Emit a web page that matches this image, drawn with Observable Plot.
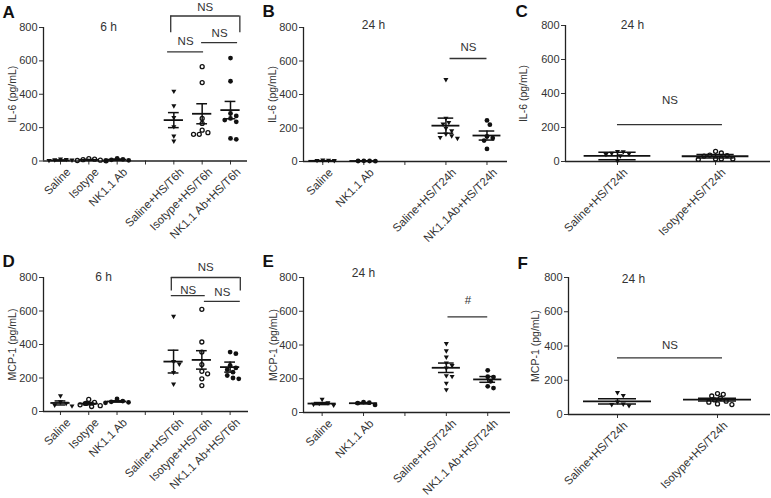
<!DOCTYPE html>
<html><head><meta charset="utf-8">
<script src="https://cdn.jsdelivr.net/npm/d3@7"></script>
<script src="https://cdn.jsdelivr.net/npm/@observablehq/plot@0.6"></script>
<style>
body{margin:0;background:#fff;}
#wrap{position:relative;width:771px;height:498px;overflow:hidden;background:#fff;}
.pan{position:absolute;}
.pan svg{display:block;}
</style></head><body><div id="wrap"></div>
<script>
// ---------- Panel A: IL-6, 6 h ----------
const catsA = ["Saline", "Isotype", "NK1.1 Ab", "", "Saline+HS/T6h", "Isotype+HS/T6h", "NK1.1 Ab+HS/T6h"];
const shapesA = ["tri", "open", "filled", "", "tri", "open", "filled"];
const ptsA = [[8, 6, 4, 2, 0], [14, 11, 8, 5, 3, 1], [16, 10, 7, 4, 2], [],
  [415, 327, 257, 202, 146, 116], [565, 470, 255, 225, 185, 170, 160, 160],
  [617, 478, 285, 270, 255, 245, 235, 135, 130]];
const meanA = [4, 7, 8, null, 245, 283, 305];
const errA = [2, 2, 3, null, 45, 60, 52];
const sigA_x1 = [3.89, 3.78, 4.98], sigA_x2 = [6.33, 5.05, 6.25];
const sigA_y = [869, 654, 709], sigA_drop = [769, null, null];
const sigA_textY = [922, 720, 765], sigA_label = ["NS", "NS", "NS"];

// ---------- Panel B: IL-6, 24 h ----------
const catsB = ["Saline", "NK1.1 Ab", "", "Saline+HS/T24h", "NK1.1Ab+HS/T24h"];
const shapesB = ["tri", "filled", "", "tri", "filled"];
const ptsB = [[5, 4, 3, 2], [4, 3, 3, 2], [],
  [486, 255, 230, 220, 195, 180, 160, 150, 140, 135], [245, 220, 150, 140, 125, 75]];
const meanB = [4, 3, null, 214, 155];
const errB = [1, 1, null, 45, 27];
const sigB_x1 = [3.1], sigB_x2 = [4.0], sigB_y = [615], sigB_drop = [null];
const sigB_textY = [680], sigB_label = ["NS"];

// ---------- Panel C: IL-6, 24 h ----------
const catsC = ["Saline+HS/T24h", "Isotype+HS/T24h"];
const shapesC = ["tri", "open"];
const ptsC = [[56, 54, 45, 42, 38, 30, 0], [60, 50, 38, 35, 32, 15, 15, 15, 12]];
const meanC = [33, 31];
const errC = [22, 10];
const sigC_x1 = [0], sigC_x2 = [1.07], sigC_y = [217], sigC_drop = [null];
const sigC_textY = [358], sigC_label = ["NS"];

// ---------- Panel D: MCP-1, 6 h ----------
const catsD = ["Saline", "Isotype", "NK1.1 Ab", "", "Saline+HS/T6h", "Isotype+HS/T6h", "NK1.1 Ab+HS/T6h"];
const shapesD = ["tri", "open", "filled", "", "tri", "open", "filled"];
const ptsD = [[90, 55, 45, 35, 30], [72, 55, 48, 40, 35, 30], [75, 62, 58, 55, 52], [],
  [565, 295, 280, 230, 160], [610, 415, 355, 280, 240, 225, 195, 155],
  [355, 345, 275, 260, 250, 235, 215, 200, 195]];
const meanD = [51, 47, 60, null, 298, 308, 265];
const errD = [12, 7, 4, null, 68, 55, 30];
const sigD_x1 = [3.92, 3.92, 5.09], sigD_x2 = [6.36, 5.12, 6.36];
const sigD_y = [800, 692, 657], sigD_drop = [720, null, null];
const sigD_textY = [860, 726, 712], sigD_label = ["NS", "NS", "NS"];

// ---------- Panel E: MCP-1, 24 h ----------
const catsE = ["Saline", "NK1.1 Ab", "", "Saline+HS/T24h", "NK1.1 Ab+HS/T24h"];
const shapesE = ["tri", "filled", "", "tri", "filled"];
const ptsE = [[75, 55, 50, 45, 40], [62, 58, 55, 45], [],
  [405, 362, 325, 290, 275, 260, 215, 210, 170, 132], [250, 212, 210, 185, 155, 145]];
const meanE = [53, 55, null, 265, 196];
const errE = [6, 4, null, 28, 17];
const sigE_x1 = [3.04], sigE_x2 = [4.0], sigE_y = [567], sigE_drop = [null];
const sigE_textY = [662], sigE_label = ["#"];

// ---------- Panel F: MCP-1, 24 h ----------
const catsF = ["Saline+HS/T24h", "Isotype+HS/T24h"];
const shapesF = ["tri", "open"];
const ptsF = [[125, 108, 70, 58, 55, 48], [122, 118, 108, 95, 85, 78, 72, 62, 58]];
const meanF = [77, 87];
const errF = [15, 8];
const sigF_x1 = [0], sigF_x2 = [1.05], sigF_y = [331], sigF_drop = [null];
const sigF_textY = [405], sigF_label = ["NS"];

const yTicks = [0, 200, 400, 600, 800];
const FONT = '"Liberation Sans", Arial, Helvetica, sans-serif';
const INK = "#222";

// downward-pointing triangle symbol
const triDown = {
  draw(ctx, size) {
    const s = Math.sqrt(size / Math.PI);
    ctx.moveTo(0, 1.05 * s);
    ctx.lineTo(1.15 * s, -0.95 * s);
    ctx.lineTo(-1.15 * s, -0.95 * s);
    ctx.closePath();
  }
};

// simple beeswarm-like horizontal spread so markers don't overlap
function spread(values, idx, pxPerIdx, pxPerVal, diam) {
  const order = values.map((v, k) => k).sort((a, b) => values[b] - values[a]);
  const placed = [];
  const out = new Array(values.length);
  for (const k of order) {
    const py = values[k] * pxPerVal;
    let off = 0;
    for (let s = 0; s < 60; s++) {
      const cand = s === 0 ? 0 : (s % 2 ? 1 : -1) * Math.ceil(s / 2) * diam * 0.6;
      if (placed.every(p => Math.hypot(p.px - cand, p.py - py) >= diam)) { off = cand; break; }
    }
    placed.push({px: off, py});
    out[k] = idx + off / pxPerIdx;
  }
  return out;
}

function panel(cfg) {
  const {left, top, width, height, mL, mR, mT, mB, xDomain, cats, shapes, pts, mean, err} = cfg;
  const pxPerIdx = (width - mL - mR) / (xDomain[1] - xDomain[0]);
  const pxPerVal = (height - mT - mB) / 800;
  const dots = [];
  pts.forEach((vals, i) => {
    if (!vals.length) return;
    const xs = spread(vals, i, pxPerIdx, pxPerVal, 4.8);
    vals.forEach((v, k) => dots.push({x: xs[k], y: v, shape: shapes[i]}));
  });
  const groups = mean.map((m, i) => ({i, m, e: err[i]})).filter(d => d.m != null);
  const sig = cfg.sx1.map((x1, k) => ({x1, x2: cfg.sx2[k], y: cfg.sy[k], drop: cfg.sdrop[k], ty: cfg.sty[k], label: cfg.slabel[k]}));
  const drops = sig.filter(d => d.drop != null);
  const labels = cats.map((c, i) => ({i, c})).filter(d => d.c);

  const chart = Plot.plot({
    width, height,
    marginLeft: mL, marginRight: mR, marginTop: mT, marginBottom: mB,
    x: {type: "linear", domain: xDomain},
    y: {type: "linear", domain: [0, 800]},
    style: {fontFamily: FONT, fontSize: "11px", color: "#333", background: "transparent", overflow: "visible"},
    marks: [
      Plot.axisY({ticks: yTicks, tickSize: 4, tickPadding: 2, label: null, tickFormat: d => String(d), fontSize: 11}),
      Plot.axisX({ticks: cats.map((_, i) => i), tickFormat: () => "", tickSize: 4, label: null}),
      Plot.text(labels, {x: "i", text: "c", frameAnchor: "bottom", rotate: -45, textAnchor: "end", lineAnchor: "top", dx: 5, dy: 6, fontSize: 11.5, fill: "#333"}),
      Plot.ruleY([0], {stroke: INK, strokeWidth: 1.3}),
      Plot.ruleX([xDomain[0]], {y1: 0, y2: 800, stroke: INK, strokeWidth: 1.3}),
      // mean and error bars
      Plot.ruleY(groups, {y: "m", x1: d => d.i - 0.34, x2: d => d.i + 0.34, stroke: "#111", strokeWidth: 1.8}),
      Plot.ruleX(groups, {x: "i", y1: d => d.m - d.e, y2: d => d.m + d.e, stroke: "#111", strokeWidth: 1.5}),
      Plot.ruleY(groups, {y: d => d.m + d.e, x1: d => d.i - 0.19, x2: d => d.i + 0.19, stroke: "#111", strokeWidth: 1.5}),
      Plot.ruleY(groups, {y: d => d.m - d.e, x1: d => d.i - 0.19, x2: d => d.i + 0.19, stroke: "#111", strokeWidth: 1.5}),
      // points
      Plot.dot(dots.filter(d => d.shape === "tri"), {x: "x", y: "y", symbol: triDown, r: 2.2, fill: "#111", stroke: "none"}),
      Plot.dot(dots.filter(d => d.shape === "filled"), {x: "x", y: "y", r: 2.4, fill: "#111", stroke: "none"}),
      Plot.dot(dots.filter(d => d.shape === "open"), {x: "x", y: "y", r: 2.0, fill: "none", stroke: "#111", strokeWidth: 1.3}),
      // significance annotations
      Plot.ruleY(sig, {y: "y", x1: "x1", x2: "x2", stroke: "#333", strokeWidth: 1.3}),
      Plot.ruleX(drops, {x: "x1", y1: "drop", y2: "y", stroke: "#333", strokeWidth: 1.3}),
      Plot.ruleX(drops, {x: "x2", y1: "drop", y2: "y", stroke: "#333", strokeWidth: 1.3}),
      Plot.text(sig, {x: d => (d.x1 + d.x2) / 2, y: "ty", text: "label", fontSize: 11.5, fill: "#333"}),
      // title, y label, panel letter
      Plot.text([cfg.title], {text: d => d, frameAnchor: "top-left", dx: cfg.tdx, dy: cfg.tdy, textAnchor: "middle", lineAnchor: "middle", fontSize: 12, fill: "#333"}),
      Plot.text([cfg.ylabel], {text: d => d, frameAnchor: "left", rotate: -90, dx: cfg.ldx, textAnchor: "middle", lineAnchor: "middle", fontSize: 10.5, fill: "#333"}),
      Plot.text([cfg.letter], {text: d => d, frameAnchor: "top-left", dx: cfg.kdx, dy: cfg.kdy, textAnchor: "start", lineAnchor: "bottom", fontSize: 17, fontWeight: "bold", fill: "#111"})
    ]
  });
  const div = document.createElement("div");
  div.className = "pan";
  div.style.left = left + "px";
  div.style.top = top + "px";
  div.style.width = width + "px";
  div.style.height = height + "px";
  div.appendChild(chart);
  document.getElementById("wrap").appendChild(div);
}

panel({left: 0, top: 0, width: 255, height: 248, mL: 43, mR: 8, mT: 27, mB: 87.5, xDomain: [-0.6, 6.6],
  cats: catsA, shapes: shapesA, pts: ptsA, mean: meanA, err: errA,
  sx1: sigA_x1, sx2: sigA_x2, sy: sigA_y, sdrop: sigA_drop, sty: sigA_textY, slabel: sigA_label,
  title: "6 h", tdx: 65, tdy: 0, ylabel: "IL-6 (pg/mL)", ldx: -30.5, letter: "A", kdx: -41, kdy: -10});
panel({left: 260, top: 0, width: 255, height: 248, mL: 43, mR: 8, mT: 27, mB: 87, xDomain: [-0.47, 4.5],
  cats: catsB, shapes: shapesB, pts: ptsB, mean: meanB, err: errB,
  sx1: sigB_x1, sx2: sigB_x2, sy: sigB_y, sdrop: sigB_drop, sty: sigB_textY, slabel: sigB_label,
  title: "24 h", tdx: 70, tdy: -2, ylabel: "IL-6 (pg/mL)", ldx: -30.5, letter: "B", kdx: -41, kdy: -11});
panel({left: 510, top: 0, width: 261, height: 248, mL: 55, mR: 1, mT: 25, mB: 87, xDomain: [-0.53, 1.56],
  cats: catsC, shapes: shapesC, pts: ptsC, mean: meanC, err: errC,
  sx1: sigC_x1, sx2: sigC_x2, sy: sigC_y, sdrop: sigC_drop, sty: sigC_textY, slabel: sigC_label,
  title: "24 h", tdx: 67, tdy: 0, ylabel: "IL-6 (pg/mL)", ldx: -42, letter: "C", kdx: -50, kdy: -9});
panel({left: 0, top: 248, width: 255, height: 250, mL: 43, mR: 7, mT: 29, mB: 87, xDomain: [-0.6, 6.65],
  cats: catsD, shapes: shapesD, pts: ptsD, mean: meanD, err: errD,
  sx1: sigD_x1, sx2: sigD_x2, sy: sigD_y, sdrop: sigD_drop, sty: sigD_textY, slabel: sigD_label,
  title: "6 h", tdx: 60, tdy: 0, ylabel: "MCP-1 (pg/mL)", ldx: -30.5, letter: "D", kdx: -41, kdy: -11});
panel({left: 260, top: 248, width: 255, height: 250, mL: 43, mR: 5, mT: 29, mB: 86, xDomain: [-0.45, 4.55],
  cats: catsE, shapes: shapesE, pts: ptsE, mean: meanE, err: errE,
  sx1: sigE_x1, sx2: sigE_x2, sy: sigE_y, sdrop: sigE_drop, sty: sigE_textY, slabel: sigE_label,
  title: "24 h", tdx: 60, tdy: -4, ylabel: "MCP-1 (pg/mL)", ldx: -30, letter: "E", kdx: -41, kdy: -11});
panel({left: 510, top: 248, width: 261, height: 250, mL: 58, mR: 1, mT: 29, mB: 84, xDomain: [-0.49, 1.53],
  cats: catsF, shapes: shapesF, pts: ptsF, mean: meanF, err: errF,
  sx1: sigF_x1, sx2: sigF_x2, sy: sigF_y, sdrop: sigF_drop, sty: sigF_textY, slabel: sigF_label,
  title: "24 h", tdx: 65, tdy: 2, ylabel: "MCP-1 (pg/mL)", ldx: -33, letter: "F", kdx: -51, kdy: -9});
</script>
</body></html>
